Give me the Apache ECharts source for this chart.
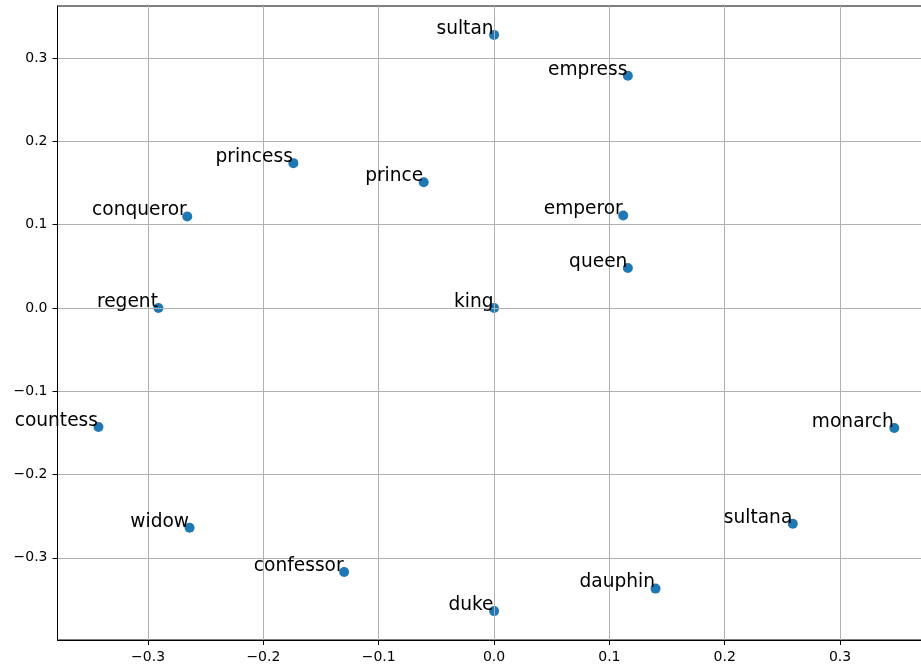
<!DOCTYPE html>
<html>
<head>
<meta charset="utf-8">
<script src="https://cdn.jsdelivr.net/npm/echarts@6/dist/echarts.min.js"></script>
<style>
html, body { margin: 0; padding: 0; background: #fff; }
#chart { width: 921px; height: 666px; }
</style>
</head>
<body>
<div id="chart"></div>
<script>
// words and their 2d coordinates
var words = ['sultan', 'empress', 'princess', 'prince', 'emperor', 'conqueror', 'queen', 'regent',
             'king', 'countess', 'monarch', 'widow', 'sultana', 'confessor', 'dauphin', 'duke'];
var xs = [0.000, 0.116, -0.174, -0.061, 0.112, -0.266, 0.116, -0.291,
          0.000, -0.343, 0.347, -0.264, 0.259, -0.130, 0.140, 0.000];
var ys = [0.328, 0.279, 0.174, 0.151, 0.111, 0.110, 0.048, 0.000,
          0.000, -0.143, -0.144, -0.264, -0.259, -0.317, -0.337, -0.364];
var xTicks = [-0.3, -0.2, -0.1, 0.0, 0.1, 0.2, 0.3];
var yTicks = [-0.3, -0.2, -0.1, 0.0, 0.1, 0.2, 0.3];

var points = [];
for (var i = 0; i < words.length; i++) {
	points.push([xs[i], ys[i], words[i]]);
}

function fmt(v) {
	var s = (Math.abs(v) < 1e-9 ? 0 : v).toFixed(1);
	return s.replace('-', '\u2212');
}

function axisOpt(ticks, min, max) {
	return {
		type: 'value',
		min: min,
		max: max,
		z: 3,
		axisLine: { show: true, onZero: false, lineStyle: { color: '#000', width: 1 } },
		axisTick: { show: true, inside: false, length: 5, customValues: ticks, lineStyle: { color: '#000', width: 1 } },
		axisLabel: {
			customValues: ticks,
			formatter: fmt,
			color: '#000',
			fontFamily: 'DejaVu Sans',
			fontSize: 14,
			margin: 10
		},
		splitLine: { show: true, lineStyle: { color: '#b0b0b0', width: 1 } }
	};
}

var myChart = echarts.init(document.getElementById('chart'));
var option = {
	animation: false,
	grid: {
		left: 57.5, top: 6, width: 876, height: 634,
		outerBoundsMode: 'none',
		show: true, borderColor: '#000', borderWidth: 1, backgroundColor: 'transparent'
	},
	xAxis: axisOpt(xTicks, -0.3785, 0.381),
	yAxis: axisOpt(yTicks, -0.3987, 0.3627),
	series: [{
		// the dots
		type: 'scatter',
		z: 2,
		symbolSize: 10,
		itemStyle: { color: '#1f77b4', opacity: 1 },
		data: points
	}, {
		// the word labels, drawn above the grid
		type: 'scatter',
		z: 4,
		symbolSize: 10,
		itemStyle: { color: 'rgba(0,0,0,0)' },
		silent: true,
		label: {
			show: true,
			position: 'inside',
			align: 'right',
			verticalAlign: 'bottom',
			offset: [-0.5, 3.5],
			color: '#000',
			textBorderWidth: 0,
			opacity: 1,
			fontFamily: 'DejaVu Sans',
			fontSize: 18.6,
			formatter: function (p) { return p.data[2]; }
		},
		data: points
	}]
};
myChart.setOption(option);
</script>
</body>
</html>
